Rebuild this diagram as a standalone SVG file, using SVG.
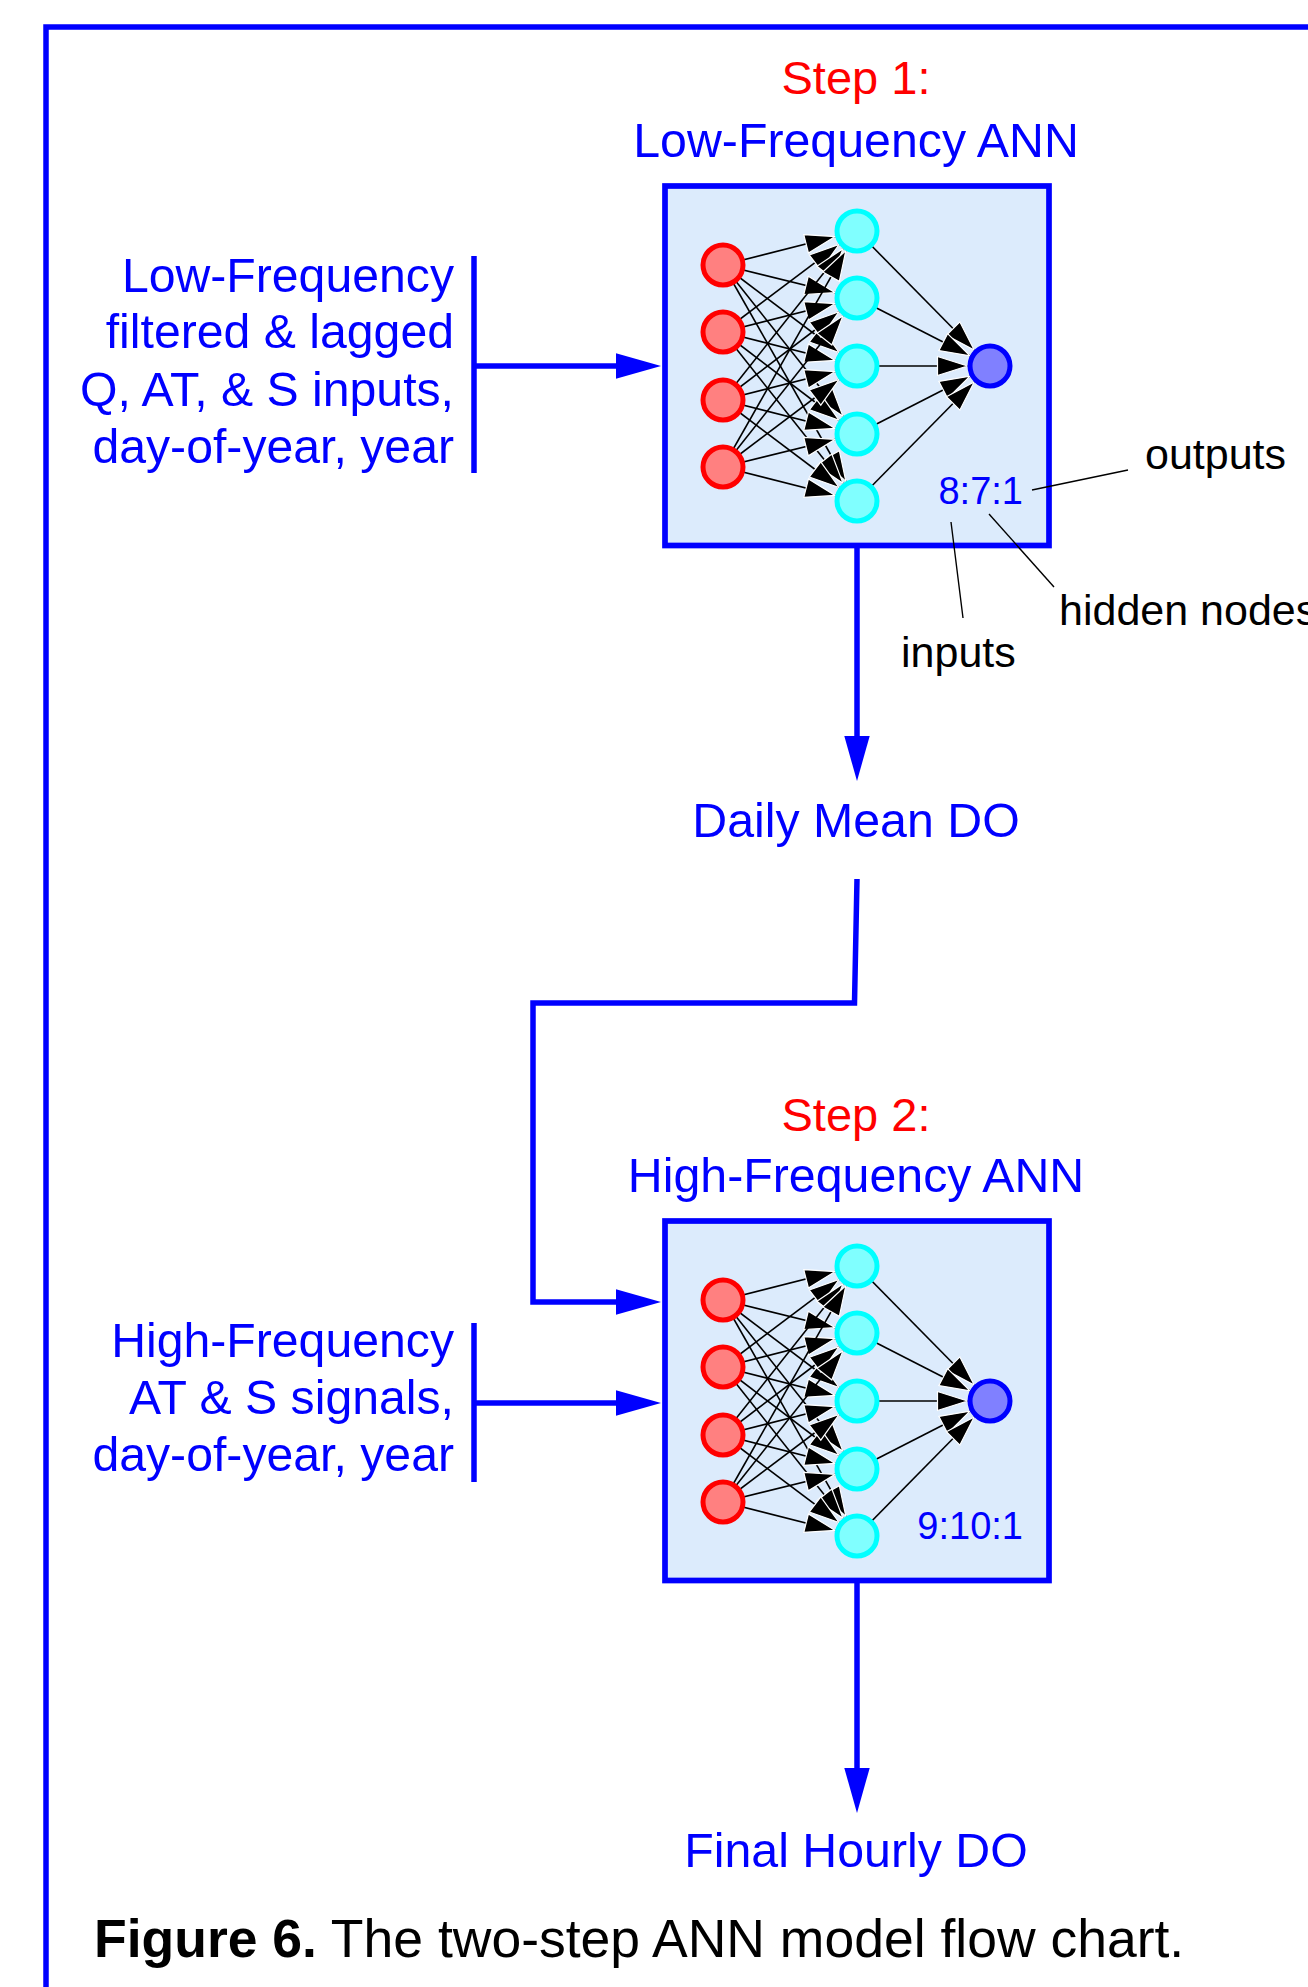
<svg xmlns="http://www.w3.org/2000/svg" width="1308" height="1987" viewBox="0 0 1308 1987">
<defs>
<style>
text{font-family:"Liberation Sans",Arial,Helvetica,sans-serif}
.blue{fill:#0000ff;font-size:48.3px}
.lbl{fill:#0000ff;font-size:48.2px;text-anchor:end}
.mid{text-anchor:middle}
.red{fill:#ff0000;font-size:47px}
.blk{fill:#000000;font-size:43px}
.ratio{fill:#0000ff;font-size:38px;text-anchor:end}
.cap{fill:#000000;font-size:53.5px}
.frame{fill:none;stroke:#0000ff;stroke-width:5.5}
.box{fill:#dcebfc;stroke:#0000ff;stroke-width:5.7}
.flow{fill:none;stroke:#0000ff;stroke-width:5.5;marker-end:url(#bh)}
.bar{stroke:#0000ff;stroke-width:5.5}
.edge{stroke:#000000;stroke-width:1.6;marker-end:url(#ah)}
.lead{stroke:#000000;stroke-width:1.4}
.in{fill:#ff8080;stroke:#ff0000;stroke-width:5}
.hid{fill:#80ffff;stroke:#00ffff;stroke-width:5}
.out{fill:#8080ff;stroke:#0000ff;stroke-width:5}
</style>
<marker id="bh" markerUnits="userSpaceOnUse" markerWidth="50" markerHeight="30" refX="0" refY="0" orient="auto" overflow="visible"><path d="M0,-12.7 L45,0 L0,12.7 z" fill="#0000ff"/></marker>
<marker id="ah" markerUnits="userSpaceOnUse" markerWidth="60" markerHeight="30" refX="22.5" refY="0" orient="auto" overflow="visible"><path d="M-30,-9.5 L0,0 L-30,9.5 z" fill="#000000" stroke="#ffffff" stroke-width="1.2"/></marker>
</defs>
<rect x="0" y="0" width="1308" height="1987" fill="#ffffff"/>
<g id="frame"><path class="frame" d="M46,1995 V27 H1315"/></g>

<g id="box1"><rect class="box" x="665" y="186" width="384" height="359.5"/></g>
<g id="box2"><rect class="box" x="665" y="1221" width="384" height="359.5"/></g>

<g id="connectors">
<path class="flow" d="M474,366 H616"/>
<path class="flow" d="M857,545 V736"/>
<path class="flow" d="M857,879 L854.5,1003 H533 V1302 H616"/>
<path class="flow" d="M474,1403 H616"/>
<path class="flow" d="M857,1580 V1768"/>
<line class="lead" x1="1032" y1="490" x2="1128" y2="470"/>
<line class="lead" x1="989" y1="514" x2="1054" y2="587"/>
<line class="lead" x1="951" y1="522" x2="963" y2="618"/>
<g id="ann1-edges" transform="translate(0,186)">
<line class="edge" x1="723" y1="79" x2="857" y2="45"/><line class="edge" x1="723" y1="79" x2="857" y2="112"/><line class="edge" x1="723" y1="79" x2="857" y2="180"/><line class="edge" x1="723" y1="79" x2="857" y2="248"/><line class="edge" x1="723" y1="79" x2="857" y2="315"/>
<line class="edge" x1="723" y1="146" x2="857" y2="45"/><line class="edge" x1="723" y1="146" x2="857" y2="112"/><line class="edge" x1="723" y1="146" x2="857" y2="180"/><line class="edge" x1="723" y1="146" x2="857" y2="248"/><line class="edge" x1="723" y1="146" x2="857" y2="315"/>
<line class="edge" x1="723" y1="214" x2="857" y2="45"/><line class="edge" x1="723" y1="214" x2="857" y2="112"/><line class="edge" x1="723" y1="214" x2="857" y2="180"/><line class="edge" x1="723" y1="214" x2="857" y2="248"/><line class="edge" x1="723" y1="214" x2="857" y2="315"/>
<line class="edge" x1="723" y1="281" x2="857" y2="45"/><line class="edge" x1="723" y1="281" x2="857" y2="112"/><line class="edge" x1="723" y1="281" x2="857" y2="180"/><line class="edge" x1="723" y1="281" x2="857" y2="248"/><line class="edge" x1="723" y1="281" x2="857" y2="315"/>
<line class="edge" x1="857" y1="45" x2="990" y2="180"/><line class="edge" x1="857" y1="112" x2="990" y2="180"/><line class="edge" x1="857" y1="180" x2="990" y2="180"/><line class="edge" x1="857" y1="248" x2="990" y2="180"/><line class="edge" x1="857" y1="315" x2="990" y2="180"/>
</g>
<g id="ann2-edges" transform="translate(0,1221)">
<line class="edge" x1="723" y1="79" x2="857" y2="45"/><line class="edge" x1="723" y1="79" x2="857" y2="112"/><line class="edge" x1="723" y1="79" x2="857" y2="180"/><line class="edge" x1="723" y1="79" x2="857" y2="248"/><line class="edge" x1="723" y1="79" x2="857" y2="315"/>
<line class="edge" x1="723" y1="146" x2="857" y2="45"/><line class="edge" x1="723" y1="146" x2="857" y2="112"/><line class="edge" x1="723" y1="146" x2="857" y2="180"/><line class="edge" x1="723" y1="146" x2="857" y2="248"/><line class="edge" x1="723" y1="146" x2="857" y2="315"/>
<line class="edge" x1="723" y1="214" x2="857" y2="45"/><line class="edge" x1="723" y1="214" x2="857" y2="112"/><line class="edge" x1="723" y1="214" x2="857" y2="180"/><line class="edge" x1="723" y1="214" x2="857" y2="248"/><line class="edge" x1="723" y1="214" x2="857" y2="315"/>
<line class="edge" x1="723" y1="281" x2="857" y2="45"/><line class="edge" x1="723" y1="281" x2="857" y2="112"/><line class="edge" x1="723" y1="281" x2="857" y2="180"/><line class="edge" x1="723" y1="281" x2="857" y2="248"/><line class="edge" x1="723" y1="281" x2="857" y2="315"/>
<line class="edge" x1="857" y1="45" x2="990" y2="180"/><line class="edge" x1="857" y1="112" x2="990" y2="180"/><line class="edge" x1="857" y1="180" x2="990" y2="180"/><line class="edge" x1="857" y1="248" x2="990" y2="180"/><line class="edge" x1="857" y1="315" x2="990" y2="180"/>
</g>
</g>

<g id="ann1-nodes" transform="translate(0,186)">
<g id="ann1-in1"><circle class="in" cx="723" cy="79" r="20"/></g>
<g id="ann1-in2"><circle class="in" cx="723" cy="146" r="20"/></g>
<g id="ann1-in3"><circle class="in" cx="723" cy="214" r="20"/></g>
<g id="ann1-in4"><circle class="in" cx="723" cy="281" r="20"/></g>
<g id="ann1-h1"><circle class="hid" cx="857" cy="45" r="20"/></g>
<g id="ann1-h2"><circle class="hid" cx="857" cy="112" r="20"/></g>
<g id="ann1-h3"><circle class="hid" cx="857" cy="180" r="20"/></g>
<g id="ann1-h4"><circle class="hid" cx="857" cy="248" r="20"/></g>
<g id="ann1-h5"><circle class="hid" cx="857" cy="315" r="20"/></g>
<g id="ann1-out"><circle class="out" cx="990" cy="180" r="20"/></g>
</g>
<g id="ann2-nodes" transform="translate(0,1221)">
<g id="ann2-in1"><circle class="in" cx="723" cy="79" r="20"/></g>
<g id="ann2-in2"><circle class="in" cx="723" cy="146" r="20"/></g>
<g id="ann2-in3"><circle class="in" cx="723" cy="214" r="20"/></g>
<g id="ann2-in4"><circle class="in" cx="723" cy="281" r="20"/></g>
<g id="ann2-h1"><circle class="hid" cx="857" cy="45" r="20"/></g>
<g id="ann2-h2"><circle class="hid" cx="857" cy="112" r="20"/></g>
<g id="ann2-h3"><circle class="hid" cx="857" cy="180" r="20"/></g>
<g id="ann2-h4"><circle class="hid" cx="857" cy="248" r="20"/></g>
<g id="ann2-h5"><circle class="hid" cx="857" cy="315" r="20"/></g>
<g id="ann2-out"><circle class="out" cx="990" cy="180" r="20"/></g>
</g>

<g id="title1">
<text class="red mid" x="856" y="94">Step 1:</text>
<text class="blue mid" x="856" y="157">Low-Frequency ANN</text>
</g>
<g id="inputs1">
<line class="bar" x1="474" y1="256" x2="474" y2="473"/>
<text class="lbl" x="454" y="292">Low-Frequency</text>
<text class="lbl" x="454" y="348">filtered &amp; lagged</text>
<text class="lbl" x="454" y="406">Q, AT, &amp; S inputs,</text>
<text class="lbl" x="454" y="463">day-of-year, year</text>
</g>
<g id="ratio1"><text class="ratio" x="1023" y="504">8:7:1</text></g>
<g id="label-outputs"><text class="blk" x="1145" y="469">outputs</text></g>
<g id="label-hidden"><text class="blk" x="1059" y="625">hidden nodes</text></g>
<g id="label-inputs"><text class="blk" x="901" y="667">inputs</text></g>
<g id="daily"><text class="blue mid" x="856" y="837">Daily Mean DO</text></g>

<g id="title2">
<text class="red mid" x="856" y="1131">Step 2:</text>
<text class="blue mid" x="856" y="1192">High-Frequency ANN</text>
</g>
<g id="inputs2">
<line class="bar" x1="474" y1="1323" x2="474" y2="1482"/>
<text class="lbl" x="454" y="1357">High-Frequency</text>
<text class="lbl" x="454" y="1414">AT &amp; S signals,</text>
<text class="lbl" x="454" y="1471">day-of-year, year</text>
</g>
<g id="ratio2"><text class="ratio" x="1023" y="1539">9:10:1</text></g>
<g id="final"><text class="blue mid" x="856" y="1867">Final Hourly DO</text></g>

<g id="caption"><text class="cap" x="94" y="1957"><tspan font-weight="bold">Figure 6.</tspan> The two-step ANN model flow chart.</text></g>
</svg>
